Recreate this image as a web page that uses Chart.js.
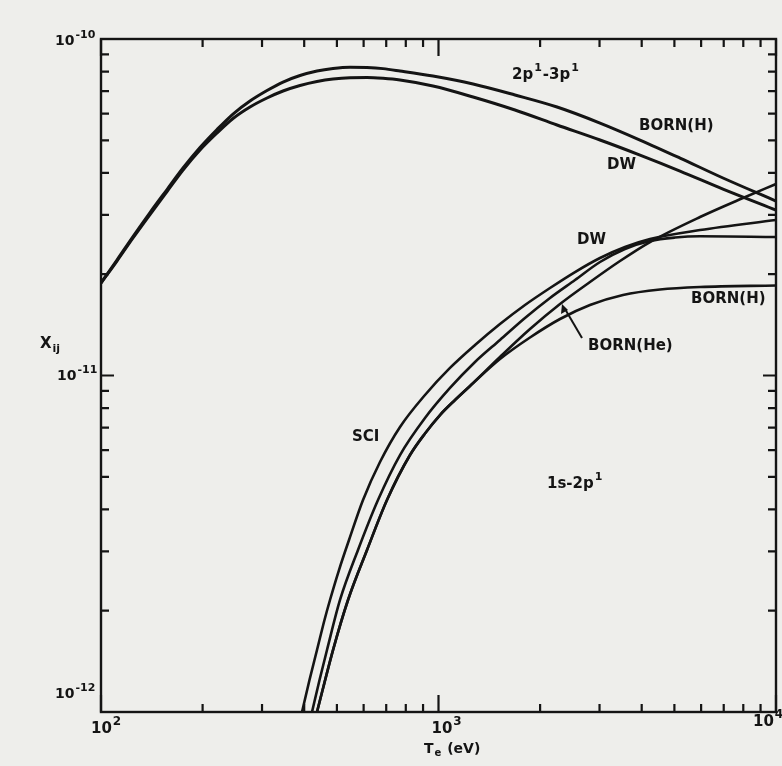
<!DOCTYPE html>
<html><head><meta charset="utf-8">
<script src="https://cdn.jsdelivr.net/npm/chart.js@4.4.1/dist/chart.umd.min.js"></script>
<style>html,body{margin:0;padding:0;background:#eeeeeb;}canvas{display:block;}</style>
</head><body>
<canvas id="c" width="782" height="766"></canvas>
<script>
// ---- data: T_e (eV) and X_ij ----
// 2p1-3p1 transition
const t23 = [100, 111.5, 124.4, 139.7, 156.9, 175, 196.5, 220.7, 246.1, 276.4, 310.4, 346.2, 388.8, 436.5, 486.9, 546.8, 614.1, 684.8, 769.1, 963, 1266, 1685, 2245, 3010, 3954, 5195, 6966, 10000];
const x23BornH = [1.883e-11, 2.204e-11, 2.588e-11, 3.050e-11, 3.570e-11, 4.136e-11, 4.759e-11, 5.383e-11, 5.985e-11, 6.543e-11, 7.029e-11, 7.449e-11, 7.788e-11, 8.035e-11, 8.175e-11, 8.245e-11, 8.228e-11, 8.165e-11, 8.035e-11, 7.761e-11, 7.349e-11, 6.818e-11, 6.280e-11, 5.627e-11, 5.010e-11, 4.428e-11, 3.863e-11, 3.300e-11];
const x23DW    = [1.883e-11, 2.189e-11, 2.563e-11, 3.009e-11, 3.522e-11, 4.080e-11, 4.679e-11, 5.256e-11, 5.803e-11, 6.280e-11, 6.679e-11, 7.005e-11, 7.274e-11, 7.475e-11, 7.603e-11, 7.671e-11, 7.681e-11, 7.639e-11, 7.551e-11, 7.249e-11, 6.725e-11, 6.152e-11, 5.551e-11, 5.010e-11, 4.519e-11, 4.052e-11, 3.582e-11, 3.103e-11];

// 1s-2p1 transition
const tSCI = [394.1, 414.7, 436.5, 459.4, 477.0, 507.2, 543.1, 597.5, 670.9, 769.1, 912, 1081.6, 1283, 1521, 1804, 2140, 2538, 3010, 3569, 4233, 5955, 10000];
const xSCI = [1.0e-12, 1.245e-12, 1.528e-12, 1.877e-12, 2.152e-12, 2.642e-12, 3.244e-12, 4.266e-12, 5.532e-12, 7.031e-12, 8.752e-12, 1.053e-11, 1.232e-11, 1.422e-11, 1.620e-11, 1.820e-11, 2.030e-11, 2.235e-11, 2.409e-11, 2.544e-11, 2.706e-11, 2.898e-11];

const tDW12 = [421.9, 444.1, 467.3, 510.7, 577.4, 661.8, 769.1, 912, 1081.6, 1283, 1521, 1804, 2140, 2538, 3010, 3569, 4233, 5021, 5955, 10000];
const xDW12 = [1.0e-12, 1.245e-12, 1.528e-12, 2.152e-12, 3.030e-12, 4.266e-12, 5.803e-12, 7.476e-12, 9.182e-12, 1.097e-11, 1.275e-11, 1.482e-11, 1.700e-11, 1.922e-11, 2.174e-11, 2.377e-11, 2.510e-11, 2.570e-11, 2.592e-11, 2.579e-11];

const tBornHe = [436.5, 486.9, 539.4, 614.1, 703.7, 823.3, 912, 1010.3, 1119.3, 1240, 1521, 1867, 2291, 2811, 3450, 4233, 5955, 7984, 10000];
const xBornHe = [1.0e-12, 1.528e-12, 2.152e-12, 3.030e-12, 4.266e-12, 5.803e-12, 6.726e-12, 7.631e-12, 8.457e-12, 9.307e-12, 1.135e-11, 1.374e-11, 1.631e-11, 1.896e-11, 2.189e-11, 2.492e-11, 2.958e-11, 3.369e-11, 3.707e-11];

const tBornH = [436.5, 486.9, 539.4, 614.1, 703.7, 823.3, 912, 1010.3, 1119.3, 1240, 1521, 1867, 2291, 2811, 3521, 4532, 5955, 10000];
const xBornH = [1.0e-12, 1.528e-12, 2.152e-12, 3.030e-12, 4.266e-12, 5.803e-12, 6.726e-12, 7.631e-12, 8.457e-12, 9.307e-12, 1.119e-11, 1.297e-11, 1.472e-11, 1.620e-11, 1.735e-11, 1.801e-11, 1.832e-11, 1.851e-11];

// tick values
const xMajorTicks = [100, 1000, 10000];
const xMinorTicks = [200, 300, 400, 500, 600, 700, 800, 900, 2000, 3000, 4000, 5000, 6000, 7000, 8000, 9000];
const yMajorTicks = [1e-12, 1e-11, 1e-10];
const yMinorTicks = [2e-12, 3e-12, 4e-12, 5e-12, 6e-12, 7e-12, 8e-12, 9e-12, 2e-11, 3e-11, 4e-11, 5e-11, 6e-11, 7e-11, 8e-11, 9e-11];

function pts(ts, xs) { return ts.map((t, i) => ({x: t, y: xs[i]})); }

const INK = '#141414';
const BG = '#eeeeeb';
const FONT = '"DejaVu Sans", "Liberation Sans", sans-serif';

function setFont(ctx, size) { ctx.font = 'bold ' + size + 'px ' + FONT; }
function drawPow(ctx, base, exp, x, y, size) {
  setFont(ctx, size);
  ctx.textAlign = 'left'; ctx.textBaseline = 'middle';
  const w = ctx.measureText(base).width;
  ctx.fillText(base, x, y);
  setFont(ctx, Math.round(size * 0.78));
  ctx.fillText(exp, x + w + 1, y - size * 0.45);
}
// draws a run of [text, 'n'|'sup'|'sub'] parts
function drawRich(ctx, parts, x, y, size) {
  ctx.textAlign = 'left'; ctx.textBaseline = 'middle';
  let cx = x;
  parts.forEach(([s, mode]) => {
    if (mode === 'n') { setFont(ctx, size); ctx.fillText(s, cx, y); cx += ctx.measureText(s).width; }
    else if (mode === 'sup') { setFont(ctx, Math.round(size * 0.72)); ctx.fillText(s, cx + 1, y - size * 0.45); cx += ctx.measureText(s).width + 2; }
    else { setFont(ctx, Math.round(size * 0.72)); ctx.fillText(s, cx + 1, y + size * 0.35); cx += ctx.measureText(s).width + 2; }
  });
}

const decor = {
  id: 'decor',
  beforeDraw(chart) {
    const c = chart.ctx;
    c.save(); c.fillStyle = BG; c.fillRect(0, 0, chart.width, chart.height); c.restore();
  },
  afterDraw(chart) {
    const c = chart.ctx, a = chart.chartArea, sx = chart.scales.x, sy = chart.scales.y;
    c.save();
    c.strokeStyle = INK; c.fillStyle = INK; c.lineCap = 'butt';
    c.lineWidth = 2.4;
    c.strokeRect(a.left, a.top, a.right - a.left, a.bottom - a.top);
    c.lineWidth = 2.2;
    c.beginPath();
    const xt = (v, L) => { const p = sx.getPixelForValue(v); c.moveTo(p, a.bottom); c.lineTo(p, a.bottom - L); c.moveTo(p, a.top); c.lineTo(p, a.top + L); };
    const yt = (v, L) => { const p = sy.getPixelForValue(v); c.moveTo(a.left, p); c.lineTo(a.left + L, p); c.moveTo(a.right, p); c.lineTo(a.right - L, p); };
    xMinorTicks.forEach(v => xt(v, 8));
    xMajorTicks.forEach(v => xt(v, 17));
    yMinorTicks.forEach(v => yt(v, 8));
    yMajorTicks.forEach(v => yt(v, 13));
    c.stroke();

    // axis tick labels
    drawPow(c, '10', '-10', 55, sy.getPixelForValue(1e-10) + 2, 14);
    drawPow(c, '10', '-11', 57, sy.getPixelForValue(1e-11) + 1, 14);
    drawPow(c, '10', '-12', 55, sy.getPixelForValue(1e-12) - 18, 14);
    drawPow(c, '10', '2', sx.getPixelForValue(100) - 10, a.bottom + 17, 15);
    drawPow(c, '10', '3', sx.getPixelForValue(1000) - 7, a.bottom + 17, 15);
    drawPow(c, '10', '4', sx.getPixelForValue(10000) - 23, a.bottom + 10, 15);

    // axis titles
    drawRich(c, [['X', 'n'], ['ij', 'sub']], 40, 344, 15);
    drawRich(c, [['T', 'n'], ['e', 'sub'], [' (eV)', 'n']], 424, 749, 14);

    // curve annotations
    drawRich(c, [['2p', 'n'], ['1', 'sup'], ['-3p', 'n'], ['1', 'sup']], 512, 75, 15);
    drawRich(c, [['BORN(H)', 'n']], 639, 126, 15);
    drawRich(c, [['DW', 'n']], 607, 165, 15);
    drawRich(c, [['DW', 'n']], 577, 240, 15);
    drawRich(c, [['BORN(H)', 'n']], 691, 299, 15);
    drawRich(c, [['BORN(He)', 'n']], 588, 346, 15);
    drawRich(c, [['SCI', 'n']], 352, 437, 15);
    drawRich(c, [['1s-2p', 'n'], ['1', 'sup']], 547, 484, 15);

    // arrow for BORN(He)
    c.lineWidth = 2; c.beginPath(); c.moveTo(582, 338); c.lineTo(565, 309); c.stroke();
    c.beginPath(); c.moveTo(562, 304); c.lineTo(561, 314); c.lineTo(568, 310); c.closePath(); c.fill();
    c.restore();
  }
};

const ds = (d, w) => ({ data: d, borderColor: INK, borderWidth: w, pointRadius: 0, fill: false, cubicInterpolationMode: 'monotone' });

new Chart(document.getElementById('c'), {
  type: 'line',
  data: { datasets: [
    ds(pts(t23, x23BornH), 3),
    ds(pts(t23, x23DW), 3),
    ds(pts(tSCI, xSCI), 2.6),
    ds(pts(tDW12, xDW12), 2.6),
    ds(pts(tBornHe, xBornHe), 2.6),
    ds(pts(tBornH, xBornH), 2.6)
  ]},
  options: {
    responsive: false, animation: false, devicePixelRatio: 1,
    layout: { padding: { left: 101, right: 6, top: 39, bottom: 54 } },
    plugins: { legend: { display: false }, tooltip: { enabled: false } },
    scales: {
      x: { type: 'logarithmic', min: 100, max: 10000, display: false },
      y: { type: 'logarithmic', min: 1e-12, max: 1e-10, display: false }
    }
  },
  plugins: [decor]
});
</script>
</body></html>
